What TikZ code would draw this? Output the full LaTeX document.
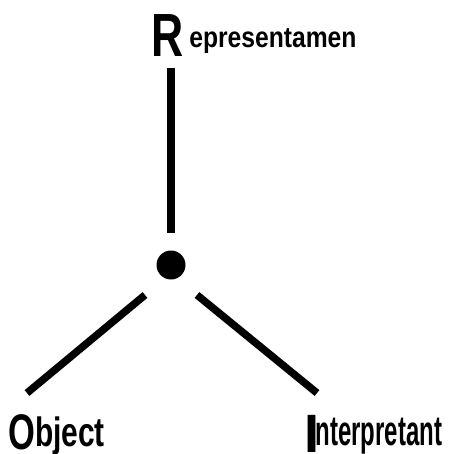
\documentclass[tikz,border=0pt]{standalone}
\usepackage{fontspec}
\setmainfont{Liberation Sans}
\newcommand{\sq}[3]{\scalebox{#1}[1]{\fontsize{#2}{#2}\selectfont\bfseries #3}}
\begin{document}
\begin{tikzpicture}[x=1pt,y=-1pt,
  bar/.style={line width=7.5pt,line cap=butt},
  lbl/.style={inner sep=0pt,anchor=base west}]
\useasboundingbox (0,0) rectangle (449,454);
\node[circle,fill=black,inner sep=0pt,minimum size=29pt] (d) at (171,265) {};
\node[lbl] (R) at (151,57) {\sq{0.73}{61}{R}\hspace{6pt}\raisebox{9pt}{\sq{0.85}{29}{epresentamen}}};
\node[lbl] (O) at (8,449) {\sq{0.69}{50}{O}\hspace{0pt}\raisebox{3pt}{\sq{0.73}{41}{bject}}};
\node[lbl] (I) at (304.5,452) {\sq{1}{54}{I}\hspace{-4pt}\raisebox{7pt}{\sq{0.57}{42}{nterpretant}}};
\coordinate (r1) at (171,68);
\coordinate (r2) at (171,233);
\coordinate (o1) at (145,295);
\coordinate (o2) at (27,393);
\coordinate (i1) at (197,295);
\coordinate (i2) at (317,393);
\draw[bar] (r1) -- (r2);
\draw[bar] (o1) -- (o2);
\draw[bar] (i1) -- (i2);
\end{tikzpicture}
\end{document}
